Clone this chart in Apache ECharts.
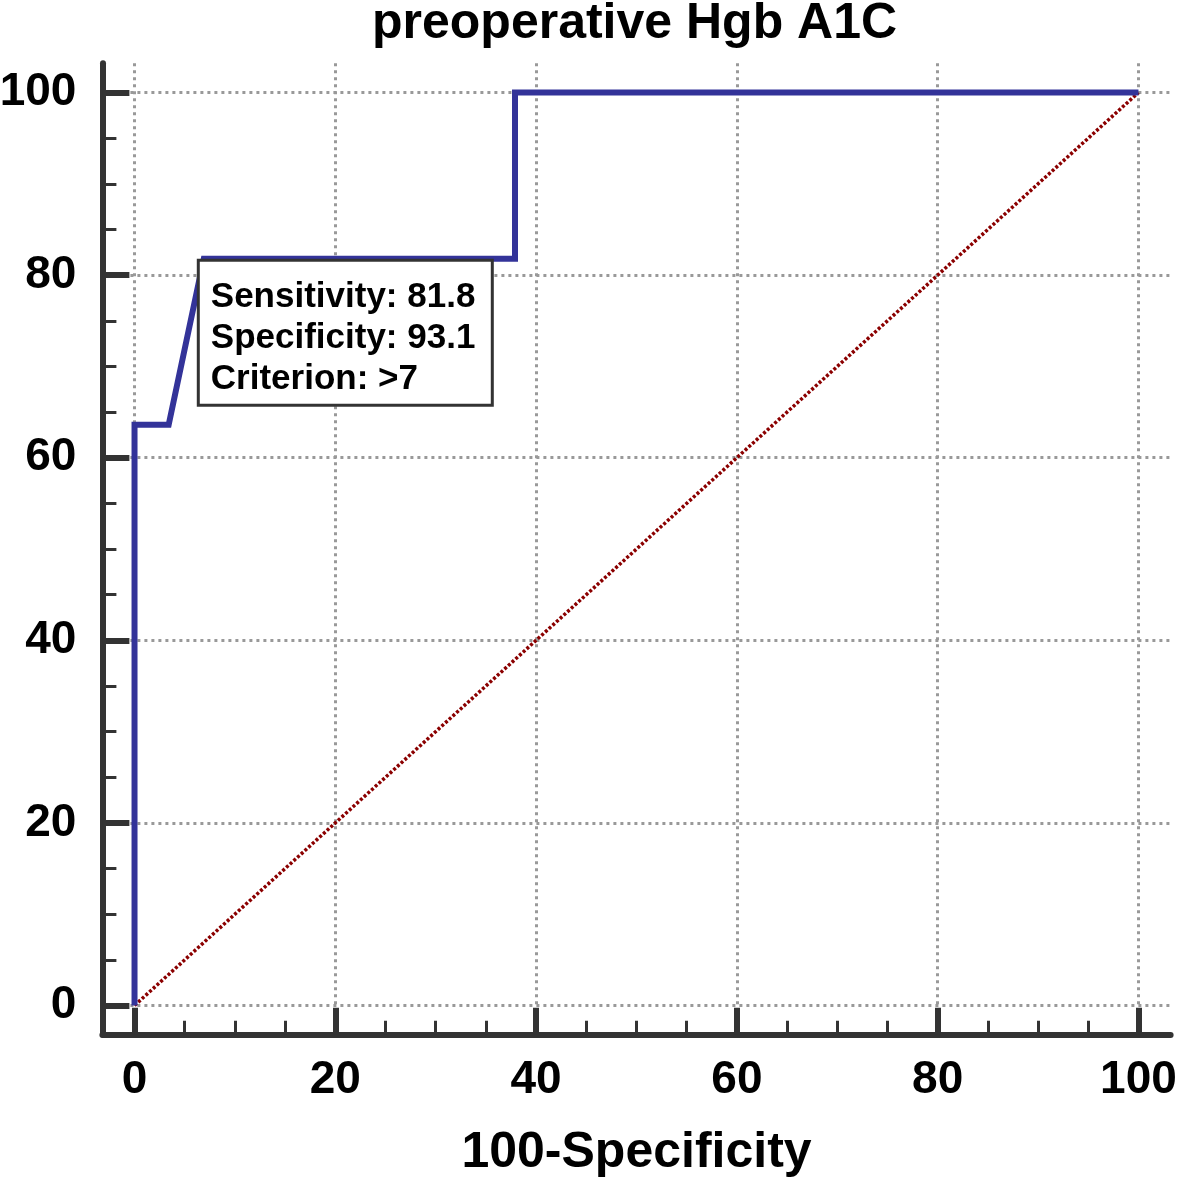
<!DOCTYPE html>
<html>
<head>
<meta charset="utf-8">
<script src="https://cdn.jsdelivr.net/npm/echarts@6/dist/echarts.min.js"></script>
<style>
html,body{margin:0;padding:0;background:#fff;}
#chart{width:1181px;height:1177px;}
</style>
</head>
<body>
<div id="chart"></div>
<script>
// ---- data ----
const chartTitle = 'preoperative Hgb A1C';
const xAxisName = '100-Specificity';
const rocFalsePositive = [0, 0, 3.4, 6.9, 37.9, 37.9, 100];   // 100-Specificity
const rocSensitivity   = [0, 63.6, 63.6, 81.8, 81.8, 100, 100];
const refLineX = [0, 100];
const refLineY = [0, 100];
const majorTicks = [0, 20, 40, 60, 80, 100];
const minorTicks = [5, 10, 15, 25, 30, 35, 45, 50, 55, 65, 70, 75, 85, 90, 95];
const cutoffPoint = [6.9, 81.8];
const cutoffLines = ['Sensitivity: 81.8', 'Specificity: 93.1', 'Criterion: >7'];

const FONT = '"Liberation Sans", Arial, sans-serif';
const AX_MIN = -3.2, AX_MAX = 103.2;

const rocData = rocFalsePositive.map((x, i) => [x, rocSensitivity[i]]);
const refData = refLineX.map((x, i) => [x, refLineY[i]]);

function majorAxis(isX) {
  const a = {
    type: 'value', min: AX_MIN, max: AX_MAX,
    position: isX ? 'bottom' : 'left',
    axisLine: { show: true, onZero: false, lineStyle: { color: '#333', width: 6 } },
    axisTick: { show: true, inside: true, length: 27, customValues: majorTicks,
                lineStyle: { color: '#333', width: 6 } },
    axisLabel: { show: true, customValues: majorTicks, margin: isX ? 23 : 26,
                 fontSize: 46, fontWeight: 'bold', color: '#000', fontFamily: FONT },
    splitLine: { show: true, lineStyle: { color: '#999', width: 3, type: [3, 4] } }
  };
  if (isX) {
    a.name = xAxisName;
    a.nameLocation = 'middle';
    a.nameGap = 94;
    a.nameTextStyle = { fontSize: 50, fontWeight: 'bold', color: '#000', fontFamily: FONT };
  }
  return a;
}
function minorAxis(isX) {
  return {
    type: 'value', min: AX_MIN, max: AX_MAX,
    position: isX ? 'bottom' : 'left',
    axisLine: { show: false, onZero: false },
    axisTick: { show: true, inside: true, length: 14, customValues: minorTicks,
                lineStyle: { color: '#333', width: 3 } },
    axisLabel: { show: false },
    splitLine: { show: false }
  };
}

const chart = echarts.init(document.getElementById('chart'));
chart.setOption({
  animation: false,
  backgroundColor: '#fff',
  title: {
    text: chartTitle, left: 367, top: -6,
    textStyle: { fontSize: 50, fontWeight: 'bold', color: '#000', fontFamily: FONT }
  },
  grid: { left: 102.4, right: 10.4, top: 63.3, bottom: 142.3, containLabel: false, outerBoundsMode: 'none' },
  xAxis: [majorAxis(true), minorAxis(true)],
  yAxis: [majorAxis(false), minorAxis(false)],
  series: [
    {
      type: 'line', data: refData, xAxisIndex: 0, yAxisIndex: 0,
      showSymbol: false, silent: true, z: 2,
      lineStyle: { color: '#8b0000', width: 3.5, type: [3, 2] }
    },
    {
      type: 'line', data: rocData, xAxisIndex: 0, yAxisIndex: 0,
      showSymbol: false, silent: true, z: 3,
      lineStyle: { color: '#333399', width: 6, join: 'miter' }
    },
    {
      type: 'scatter', data: [cutoffPoint], xAxisIndex: 0, yAxisIndex: 0,
      symbolSize: 0, silent: true, z: 5,
      itemStyle: { opacity: 1 },
      label: {
        show: true, position: [-4, 3], align: 'left', verticalAlign: 'top',
        formatter: cutoffLines.join('\n'),
        fontSize: 35, fontWeight: 'bold', color: '#000', fontFamily: FONT,
        lineHeight: 41, width: 270, opacity: 1,
        backgroundColor: '#fff', borderColor: '#333', borderWidth: 3,
        padding: [15, 10, 4, 11]
      },
      emphasis: { disabled: true }
    }
  ]
});
</script>
</body>
</html>
